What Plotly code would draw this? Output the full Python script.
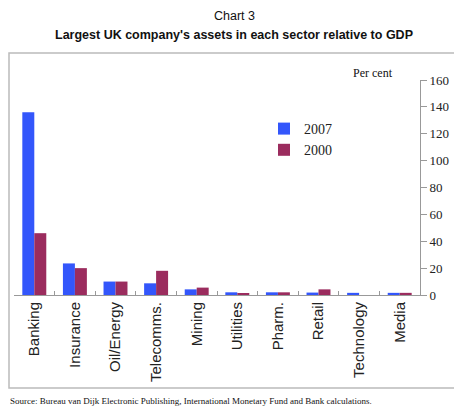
import plotly.graph_objects as go

categories = ["Banking", "Insurance", "Oil/Energy", "Telecomms.", "Mining",
              "Utilities", "Pharm.", "Retail", "Technology", "Media"]
values_2007 = [136, 23.5, 10, 8.7, 4.2, 2.0, 2.0, 1.8, 1.6, 1.6]
values_2000 = [46, 20, 10, 18, 5.5, 0.8, 2.0, 4.2, 0, 1.6]
y_ticks = [0, 20, 40, 60, 80, 100, 120, 140, 160]

W, H = 454, 406
L, R, T, B = 14, 34, 80, 111
pw, ph = W - L - R, H - T - B

def px(x):
    return (x - L) / pw

def py(y):
    return (H - B - y) / ph

fig = go.Figure()
fig.add_bar(x=categories, y=values_2007, name="2007", marker_color="#3356fb",
            marker_line_width=0)
fig.add_bar(x=categories, y=values_2000, name="2000", marker_color="#9b2c5e",
            marker_line_width=0)

fig.update_layout(
    width=W, height=H,
    margin=dict(l=L, r=R, t=T, b=B, autoexpand=False),
    paper_bgcolor="white", plot_bgcolor="white",
    barmode="group", bargap=0.41, bargroupgap=0,
    showlegend=True,
    legend=dict(x=px(264), y=py(113), xanchor="left", yanchor="top",
                font=dict(family="Liberation Serif", size=14, color="#222"),
                bgcolor="rgba(0,0,0,0)", itemwidth=30, tracegroupgap=0),
    xaxis=dict(
        type="category", tickangle=-90, tickson="boundaries", ticks="inside",
        ticklen=4, tickcolor="#999", showline=True, linecolor="#999",
        linewidth=1, showgrid=False, automargin=False,
        tickfont=dict(family="Liberation Sans", size=15, color="#222"),
        range=[-0.5, 9.5],
    ),
    yaxis=dict(
        side="right", range=[0, 160], tickvals=y_ticks, ticks="outside",
        ticklen=6, tickcolor="#999", showline=True, linecolor="#999",
        linewidth=1, showgrid=False, zeroline=False, automargin=False,
        tickfont=dict(family="Liberation Serif", size=13, color="#222"),
    ),
    font=dict(family="Liberation Sans"),
)

# outer frame
fig.add_shape(type="rect", xref="paper", yref="paper",
              x0=px(9), x1=px(460), y0=py(388), y1=py(53),
              line=dict(color="#bbbbbb", width=1.5), layer="below")

def note(text, x, y, size, family, xanchor="center"):
    fig.add_annotation(text=text, xref="paper", yref="paper", x=px(x), y=py(y),
                       xanchor=xanchor, yanchor="middle", showarrow=False,
                       font=dict(family=family, size=size, color="#111"))

note("Chart 3", 235, 16, 12.5, "Liberation Sans")
note("<b>Largest UK company's assets in each sector relative to GDP</b>", 234, 35, 12.5,
     "Liberation Sans")
note("Per cent", 373, 73, 12, "Liberation Serif")
note("Source: Bureau van Dijk Electronic Publishing, International Monetary Fund and Bank calculations.",
     8, 401, 9, "Liberation Serif", xanchor="left")

fig.write_html("out.html")
